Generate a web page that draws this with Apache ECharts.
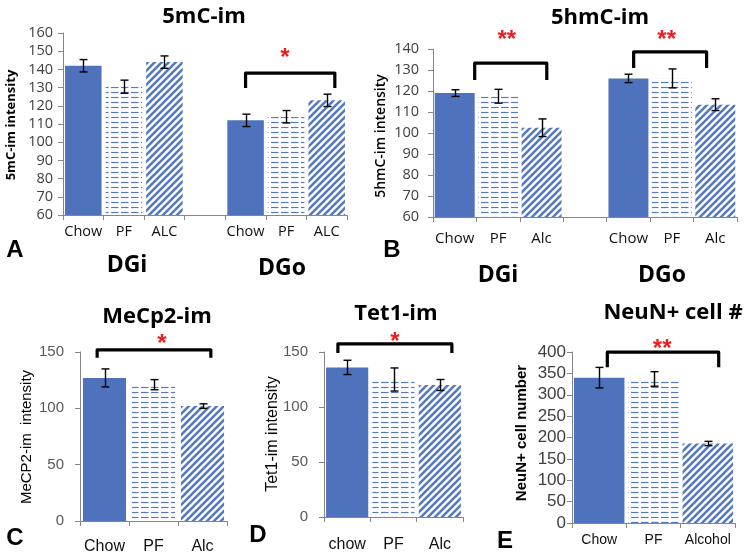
<!DOCTYPE html>
<html><head><meta charset="utf-8">
<script src="https://cdn.jsdelivr.net/npm/echarts@6/dist/echarts.min.js"></script>
<style>html,body{margin:0;padding:0;background:#fff}#c{width:745px;height:559px}</style>
</head><body><div id="c"></div>
<script>
// ---------- DATA ----------
// Panel A: 5mC-im
const aCats = ['Chow', 'PF', 'ALC', '', 'Chow', 'PF', 'ALC'];
const aMeans = [142, 130.5, 144, null, 112, 114, 123];
const aErrs = [3.4, 3.6, 3.4, null, 3.4, 3.4, 3.4];
const aTicks = [60, 160, 10];
// Panel B: 5hmC-im
const bCats = ['Chow', 'PF', 'Alc', '', 'Chow', 'PF', 'Alc'];
const bMeans = [119, 117.5, 102.5, null, 126, 126, 113.5];
const bErrs = [1.6, 3.3, 4.2, null, 2, 4.5, 2.8];
const bTicks = [60, 140, 10];
// Panel C: MeCp2-im
const cCats = ['Chow', 'PF', 'Alc'];
const cMeans = [127, 121, 102];
const cErrs = [8, 4.5, 2];
const cTicks = [0, 150, 50];
// Panel D: Tet1-im
const dCats = ['chow', 'PF', 'Alc'];
const dMeans = [136, 125, 120];
const dErrs = [6.5, 10.5, 5];
const dTicks = [0, 150, 50];
// Panel E: NeuN+ cell #
const eCats = ['Chow', 'PF', 'Alcohol'];
const eMeans = [340, 337, 186];
const eErrs = [24, 17, 5];
const eTicks = [0, 400, 50];
// fill type per category
const fills7 = ['solid', 'dash', 'diag', null, 'solid', 'dash', 'diag'];
const fills3 = ['solid', 'dash', 'diag'];
// significance brackets: [fromCat, toCat, topValue, legValue, starCat, starValue]
const aBrackets = [[4.0, 6.2, 138, 129.8, 4.97, 149]];
const aStars = ['*'];
const bBrackets = [[0.46, 2.12, 133.3, 125.2, 1.2, 146.7], [4.12, 5.8, 138.6, 131, 4.88, 146.7]];
const bStars = ['**', '**'];
const cBrackets = [[-0.15, 2.17, 151.9, 144.8, 1.17, 161.6]];
const cStars = ['*'];
const dBrackets = [[-0.2, 2.26, 157.3, 149, 1.03, 163.6]];
const dStars = ['*'];
const eBrackets = [[0.15, 2.2, 399.5, 364.5, 1.16, 418]];
const eStars = ['**'];

// ---------- STYLE ----------
const BLUE = '#4f72bd';
const PBLUE = '#5579c2';
function makeDash() {
  const c = document.createElement('canvas'); c.width = 10; c.height = 5;
  const x = c.getContext('2d');
  x.fillStyle = '#fff'; x.fillRect(0, 0, 10, 5);
  x.strokeStyle = PBLUE; x.lineWidth = 1.2;
  x.beginPath(); x.moveTo(1, 2.5); x.lineTo(8.5, 2.5); x.stroke();
  return c;
}
function makeDiag() {
  const s = 7;
  const c = document.createElement('canvas'); c.width = s; c.height = s;
  const x = c.getContext('2d');
  x.fillStyle = '#fff'; x.fillRect(0, 0, s, s);
  x.strokeStyle = PBLUE; x.lineWidth = 2.6;
  x.beginPath();
  for (const k of [-s, 0, s]) { x.moveTo(k - 1, s + 1); x.lineTo(k + s + 1, -1); }
  x.stroke();
  return c;
}
const dashPat = { image: makeDash(), repeat: 'repeat' };
const diagPat = { image: makeDiag(), repeat: 'repeat' };
function fillOf(f) { return f === 'solid' ? BLUE : f === 'dash' ? dashPat : diagPat; }

const OS = '"Open Sans", sans-serif';
const LS = '"Liberation Sans", Arial, sans-serif';

// panel layout: grid box, fonts
const panels = [
  { cats: aCats, means: aMeans, errs: aErrs, ticks: aTicks, fills: fills7, br: aBrackets, st: aStars,
    grid: { left: 63, top: 33, width: 284, height: 182 }, gap: '10%',
    tickFont: { fontFamily: OS, fontSize: 14.5, color: '#404040' }, tickMargin: 10,
    catFont: { fontFamily: OS, fontSize: 14.5, fontWeight: 500, color: '#111' }, catMargin: 9 },
  { cats: bCats, means: bMeans, errs: bErrs, ticks: bTicks, fills: fills7, br: bBrackets, st: bStars,
    grid: { left: 433, top: 49, width: 304, height: 168 }, gap: '8%',
    tickFont: { fontFamily: OS, fontSize: 14.5, color: '#404040' }, tickMargin: 14,
    catFont: { fontFamily: OS, fontSize: 15, fontWeight: 500, color: '#111' }, catMargin: 14 },
  { cats: cCats, means: cMeans, errs: cErrs, ticks: cTicks, fills: fills3, br: cBrackets, st: cStars,
    grid: { left: 80, top: 352, width: 147, height: 169 }, gap: '12%',
    tickFont: { fontFamily: LS, fontSize: 15, color: '#595959' }, tickMargin: 16,
    catFont: { fontFamily: LS, fontSize: 16, color: '#111' }, catMargin: 18 },
  { cats: dCats, means: dMeans, errs: dErrs, ticks: dTicks, fills: fills3, br: dBrackets, st: dStars,
    grid: { left: 324, top: 352, width: 139, height: 165 }, gap: '9%',
    tickFont: { fontFamily: LS, fontSize: 15, color: '#595959' }, tickMargin: 16,
    catFont: { fontFamily: LS, fontSize: 16, color: '#111' }, catMargin: 20 },
  { cats: eCats, means: eMeans, errs: eErrs, ticks: eTicks, fills: fills3, br: eBrackets, st: eStars,
    grid: { left: 572, top: 352, width: 163, height: 171 }, gap: '7%',
    tickFont: { fontFamily: LS, fontSize: 17, color: '#404040' }, tickMargin: 6,
    catFont: { fontFamily: LS, fontSize: 14, color: '#111' }, catMargin: 10 }
];

const grid = [], xAxis = [], yAxis = [], series = [];
panels.forEach((p, i) => {
  grid.push(p.grid);
  xAxis.push({
    type: 'category', gridIndex: i, data: p.cats,
    axisLine: { lineStyle: { color: '#868686', width: 1 } },
    axisTick: { show: true, length: 5, lineStyle: { color: '#868686' } },
    axisLabel: Object.assign({ interval: 0, margin: p.catMargin }, p.catFont),
    splitLine: { show: false }
  });
  yAxis.push({
    type: 'value', gridIndex: i, min: p.ticks[0], max: p.ticks[1], interval: p.ticks[2],
    axisLine: { show: true, lineStyle: { color: '#868686', width: 1 } },
    axisTick: { show: true, length: 5, lineStyle: { color: '#868686' } },
    axisLabel: Object.assign({ margin: p.tickMargin }, p.tickFont),
    splitLine: { show: false }
  });
  series.push({
    type: 'bar', xAxisIndex: i, yAxisIndex: i, barCategoryGap: p.gap, silent: true,
    data: p.means.map((v, k) => v == null ? '-' : { value: v, itemStyle: { color: fillOf(p.fills[k]) } })
  });
  series.push({
    type: 'custom', xAxisIndex: i, yAxisIndex: i, silent: true, z: 5,
    data: p.means.map((v, k) => v == null ? null : [k, v, p.errs[k]]).filter(d => d),
    renderItem: (params, api) => {
      const x = api.value(0), m = api.value(1), e = api.value(2);
      const t = api.coord([x, m + e]), b = api.coord([x, m - e]);
      const cx = Math.round(t[0]) + 0.5, hw = 4;
      const st = { stroke: '#000', lineWidth: 1.4 };
      return { type: 'group', children: [
        { type: 'line', shape: { x1: cx, y1: t[1], x2: cx, y2: b[1] }, style: st },
        { type: 'line', shape: { x1: cx - hw, y1: t[1], x2: cx + hw, y2: t[1] }, style: st },
        { type: 'line', shape: { x1: cx - hw, y1: b[1], x2: cx + hw, y2: b[1] }, style: st }
      ] };
    }
  });
  series.push({
    type: 'custom', xAxisIndex: i, yAxisIndex: i, silent: true, z: 6, clip: false,
    data: p.br,
    renderItem: (params, api) => {
      const bw = api.size([1, 0])[0];
      const x0 = api.coord([0, api.value(2)])[0];
      const xa = x0 + api.value(0) * bw, xb = x0 + api.value(1) * bw;
      const yt = api.coord([0, api.value(2)])[1], yl = api.coord([0, api.value(3)])[1];
      const xs = x0 + api.value(4) * bw, ys = api.coord([0, api.value(5)])[1];
      return { type: 'group', children: [
        { type: 'polyline', shape: { points: [[xa, yl], [xa, yt], [xb, yt], [xb, yl]] },
          style: { stroke: '#000', lineWidth: 3.2, fill: null, lineJoin: 'round', lineCap: 'butt' } },
        { type: 'text', x: xs, y: ys + 5,
          style: { text: p.st[params.dataIndex], fill: '#ee1c1c', font: 'bold 24px ' + LS,
                   align: 'center', verticalAlign: 'middle', textAlign: 'center', textVerticalAlign: 'middle' } }
      ] };
    }
  });
});

function txt(x, y, text, font, rot) {
  return { type: 'text', x: x, y: y, rotation: rot || 0, silent: true,
    style: { text: text, font: font, fill: '#000', align: 'center', verticalAlign: 'middle',
             textAlign: 'center', textVerticalAlign: 'middle' } };
}
const R = Math.PI / 2;
const graphic = [
  txt(204, 17, '5mC-im', 'bold 22px ' + OS),
  txt(600, 18, '5hmC-im', 'bold 22px ' + OS),
  txt(157, 317, 'MeCp2-im', 'bold 22px ' + OS),
  txt(396, 314, 'Tet1-im', 'bold 22px ' + OS),
  txt(673, 313, 'NeuN+ cell #', 'bold 22px ' + OS),
  txt(11, 125, '5mC-im intensity', 'bold 13px ' + OS, R),
  txt(381, 136, '5hmC-im intensity', '600 14px ' + OS, R),
  txt(27, 437, 'MeCP2-im  intensity', '15px ' + LS, R),
  txt(273, 434, 'Tet1-im intensity', '16px ' + LS, R),
  txt(522, 433, 'NeuN+ cell number', 'bold 15px ' + LS, R),
  txt(15, 250, 'A', 'bold 24px ' + LS),
  txt(392, 250, 'B', 'bold 24px ' + LS),
  txt(15, 538, 'C', 'bold 24px ' + LS),
  txt(258, 535, 'D', 'bold 24px ' + LS),
  txt(505, 541, 'E', 'bold 24px ' + LS),
  txt(127, 265, 'DGi', 'bold 23px ' + OS),
  txt(282, 268, 'DGo', 'bold 23px ' + OS),
  txt(498, 275, 'DGi', 'bold 23px ' + OS),
  txt(662, 275, 'DGo', 'bold 23px ' + OS)
];

const chart = echarts.init(document.getElementById('c'), null, { renderer: 'canvas' });
chart.setOption({ animation: false, backgroundColor: '#fff', grid, xAxis, yAxis, series, graphic });
</script></body></html>
